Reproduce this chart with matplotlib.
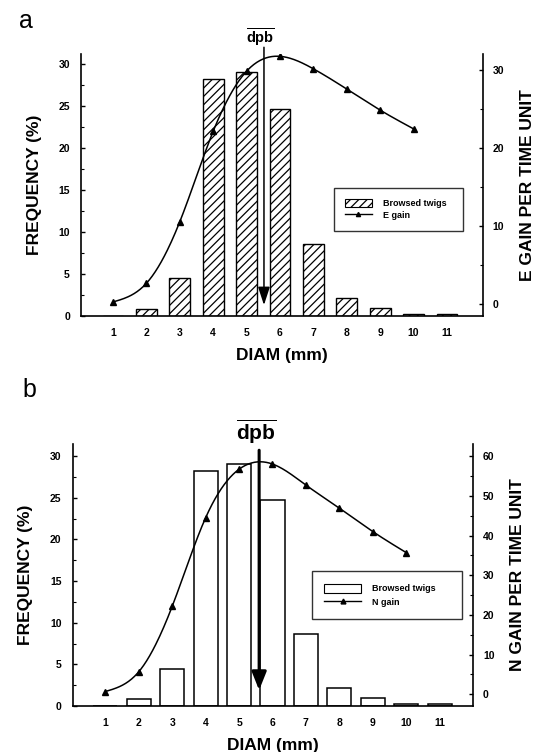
import numpy as np
import matplotlib
matplotlib.use("Agg")
import matplotlib.pyplot as plt
from matplotlib.patches import Patch
from matplotlib.lines import Line2D
from matplotlib.ticker import MultipleLocator

plt.rcParams['font.family'] = ['Liberation Sans', 'DejaVu Sans']
plt.rcParams['mathtext.fontset'] = 'custom'
plt.rcParams['mathtext.bf'] = 'Liberation Sans:bold'
plt.rcParams['mathtext.rm'] = 'Liberation Sans'
plt.rcParams['hatch.linewidth'] = 0.9

# ---------------- data ----------------
diam = [1, 2, 3, 4, 5, 6, 7, 8, 9, 10, 11]
freq = [0.0, 0.8, 4.5, 28.2, 29.0, 24.7, 8.6, 2.2, 1.0, 0.2, 0.2]
gain_x = [1, 2, 3, 4, 5, 6, 7, 8, 9, 10]
e_gain = [0.3, 2.7, 10.6, 22.2, 29.9, 31.8, 30.2, 27.6, 24.9, 22.5]
n_gain = [0.7, 5.7, 22.2, 44.5, 56.7, 58.0, 52.7, 46.9, 41.0, 35.7]
dpb_a = 5.52
dpb_b = 5.6
legend_labels_a = ["Browsed twigs", "E gain"]
legend_labels_b = ["Browsed twigs", "N gain"]


def natural_spline(x, y, xs):
    x = np.asarray(x, float); y = np.asarray(y, float)
    n = len(x)
    h = np.diff(x)
    A = np.zeros((n, n)); r = np.zeros(n)
    A[0, 0] = 1; A[-1, -1] = 1
    for i in range(1, n - 1):
        A[i, i - 1] = h[i - 1]
        A[i, i] = 2 * (h[i - 1] + h[i])
        A[i, i + 1] = h[i]
        r[i] = 6 * ((y[i + 1] - y[i]) / h[i] - (y[i] - y[i - 1]) / h[i - 1])
    M = np.linalg.solve(A, r)
    idx = np.clip(np.searchsorted(x, xs) - 1, 0, n - 2)
    x0 = x[idx]; x1 = x[idx + 1]; hh = x1 - x0
    t0 = x1 - xs; t1 = xs - x0
    return (M[idx] * t0 ** 3 / (6 * hh) + M[idx + 1] * t1 ** 3 / (6 * hh)
            + (y[idx] / hh - M[idx] * hh / 6) * t0
            + (y[idx + 1] / hh - M[idx + 1] * hh / 6) * t1)


W, H = 533, 752
fig = plt.figure(figsize=(W / 100, H / 100), dpi=100)


def px_axes(l, r, t, b):
    return fig.add_axes([l / W, 1 - b / H, (r - l) / W, (b - t) / H])


def style(ax, ax2, ylim_l, ylim_r, xlim, rmajor, rminor):
    ax.set_xlim(*xlim)
    ax.set_ylim(*ylim_l)
    ax2.set_ylim(*ylim_r)
    for a in (ax, ax2):
        a.spines['top'].set_visible(False)
        for s in a.spines.values():
            s.set_linewidth(1.2)
    ax.spines['right'].set_visible(False)
    ax2.spines['left'].set_visible(False)
    ax2.spines['bottom'].set_visible(False)
    ax.set_xticks(diam)
    ax.set_xticklabels([str(d) for d in diam])
    ax.set_yticks([0, 5, 10, 15, 20, 25, 30])
    ax.yaxis.set_minor_locator(MultipleLocator(2.5))
    ax2.yaxis.set_major_locator(MultipleLocator(rmajor))
    ax2.yaxis.set_minor_locator(MultipleLocator(rminor))
    ax2.set_yticks([v for v in np.arange(0, ylim_r[1], rmajor)])
    ax.tick_params(axis='x', length=0, pad=9, labelsize=7.5)
    ax.tick_params(axis='y', which='major', direction='in', length=3, width=1, pad=8, labelsize=7.5)
    ax.tick_params(axis='y', which='minor', direction='in', length=2, width=0.8)
    ax2.tick_params(axis='y', which='major', direction='in', length=3, width=1, pad=7, labelsize=7.5)
    ax2.tick_params(axis='y', which='minor', direction='in', length=2, width=0.8)
    for lab in ax.get_xticklabels() + ax.get_yticklabels() + ax2.get_yticklabels():
        lab.set_fontweight('bold')
    ax.set_xlabel('DIAM (mm)', fontsize=12.5, fontweight='bold', labelpad=7)
    ax.set_ylabel('FREQUENCY (%)', fontsize=12.5, fontweight='bold', labelpad=12)


# ---------------- panel a ----------------
axa = px_axes(81, 483, 54, 316)
axa2 = axa.twinx()
axa.bar(diam, freq, width=0.62, facecolor='white', edgecolor='black', hatch='////', linewidth=1.0, zorder=2)
xs = np.linspace(gain_x[0], gain_x[-1], 300)
axa2.plot(xs, natural_spline(gain_x, e_gain, xs), color='black', lw=1.1, zorder=3)
axa2.plot(gain_x, e_gain, linestyle='none', marker='^', ms=4, color='black', zorder=4)
style(axa, axa2, (0, 31.2), (-1.5, 32.1), (0.04, 12.08), 10, 5)
axa2.set_ylabel('E GAIN PER TIME UNIT', fontsize=12.5, fontweight='bold', labelpad=11)
axa.annotate('', xy=(dpb_a, 1.3), xytext=(dpb_a, 32.0), annotation_clip=False,
             arrowprops=dict(arrowstyle='-|>,head_length=0.55,head_width=0.18', lw=1.1,
                             color='black', mutation_scale=20, shrinkA=0, shrinkB=0), zorder=5)
axa.text(dpb_a - 0.1, 32.45, r'$\overline{\mathbf{dpb}}$', ha='center', va='baseline',
         fontsize=10.5, clip_on=False)
handles_a = [Patch(facecolor='white', edgecolor='black', hatch='////', linewidth=0.8),
             Line2D([], [], color='black', lw=1.0, marker='^', ms=3)]
lga = axa.legend(handles_a, legend_labels_a, loc='upper left', bbox_to_anchor=(0.629, 0.489, 0.321, 0.0),
                 mode='expand', frameon=True, fancybox=False, edgecolor='black',
                 prop={'weight': 'bold', 'size': 6.5}, handlelength=3.0, handleheight=1.0,
                 borderpad=1.2, labelspacing=0.3, handletextpad=1.2, borderaxespad=0)
lga.get_frame().set_linewidth(1.0)
lga.set_zorder(6)

fig.text(19 / W, 1 - 28 / H, 'a', fontsize=18, ha='left', va='baseline')

# ---------------- panel b ----------------
axb = px_axes(72.7, 473.3, 444, 706)
axb2 = axb.twinx()
axb.bar(diam, freq, width=0.72, facecolor='white', edgecolor='black', linewidth=1.1, zorder=2)
axb2.plot(xs, natural_spline(gain_x, n_gain, xs), color='black', lw=1.1, zorder=3)
axb2.plot(gain_x, n_gain, linestyle='none', marker='^', ms=5, color='black', zorder=4)
style(axb, axb2, (0, 31.45), (-2.95, 63.05), (0.02, 12.01), 10, 5)
axb2.set_ylabel('N GAIN PER TIME UNIT', fontsize=12.5, fontweight='bold', labelpad=11)
axb.annotate('', xy=(dpb_b, 1.9), xytext=(dpb_b, 30.7), annotation_clip=False,
             arrowprops=dict(arrowstyle='-|>,head_length=0.55,head_width=0.22', lw=2.2,
                             color='black', mutation_scale=20, shrinkA=0, shrinkB=0), zorder=5)
axb.text(dpb_b - 0.08, 32.0, r'$\overline{\mathbf{dpb}}$', ha='center', va='baseline',
         fontsize=15, clip_on=False)
handles_b = [Patch(facecolor='white', edgecolor='black', linewidth=0.8),
             Line2D([], [], color='black', lw=1.0, marker='^', ms=3.5)]
lgb = axb.legend(handles_b, legend_labels_b, loc='upper left', bbox_to_anchor=(0.597, 0.515, 0.374, 0.0),
                 mode='expand', frameon=True, fancybox=False, edgecolor='black',
                 prop={'weight': 'bold', 'size': 6.5}, handlelength=4.0, handleheight=1.2,
                 borderpad=1.4, labelspacing=0.4, handletextpad=1.3, borderaxespad=0)
lgb.get_frame().set_linewidth(1.0)
lgb.set_zorder(6)

fig.text(22 / W, 1 - 397 / H, 'b', fontsize=18, ha='left', va='baseline')

fig.savefig('out.png', dpi=100)
